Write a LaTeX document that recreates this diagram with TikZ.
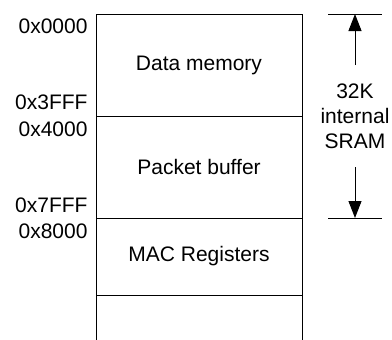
\documentclass[tikz,border=0pt]{standalone}
\usepackage{fontspec}
\setmainfont{Liberation Sans}
\usetikzlibrary{arrows.meta,calc}
\begin{document}
\begin{tikzpicture}[x=1pt,y=-1pt,line width=1pt,
  txt/.style={font=\fontsize{21}{25}\selectfont},
  region/.style={txt,draw,minimum width=206pt,inner sep=0pt,outer sep=0pt},
  addr/.style={txt,anchor=base east,inner sep=0pt},
  dimarrow/.style={-{Triangle[length=17pt,width=13pt]}}]
\useasboundingbox (0,0) rectangle (392,340);
% memory regions, stacked from the top
\node[region,minimum height=102pt,anchor=north west] (data) at (96,14) {Data memory};
\node[region,minimum height=102pt,anchor=north] (pkt) at (data.south) {Packet buffer};
\node[region,minimum height=77pt,anchor=north] (mac) at (pkt.south) {MAC Registers};
% open-ended continuation below the last region
\coordinate (tailL) at ($(mac.south west)+(0,45)$);
\coordinate (tailR) at ($(mac.south east)+(0,45)$);
\draw (mac.south west) -- (tailL);
\draw (mac.south east) -- (tailR);
% address labels
\node[addr] (a0000) at ($(data.north west)+(-8,20)$) {0x0000};
\node[addr] (a3fff) at ($(data.south west)+(-8,-6)$) {0x3FFF};
\node[addr] (a4000) at ($(pkt.north west)+(-8,20)$) {0x4000};
\node[addr] (a7fff) at ($(pkt.south west)+(-8,-6)$) {0x7FFF};
\node[addr] (a8000) at ($(mac.north west)+(-8,20)$) {0x8000};
% size dimension on the right
\coordinate (t1) at ($(data.north east)+(26,0)$);
\coordinate (t2) at ($(data.north east)+(80,0)$);
\coordinate (b1) at ($(pkt.south east)+(26,0)$);
\coordinate (b2) at ($(pkt.south east)+(80,0)$);
\draw (t1) -- (t2);
\draw (b1) -- (b2);
\coordinate (tip1) at ($(t1)!0.5!(t2)$);
\coordinate (tip2) at ($(b1)!0.5!(b2)$);
\node[txt,align=center,anchor=base,inner sep=0pt] (size) at (355,148) {32K\\internal\\SRAM};
\coordinate (s1) at ($(tip1)+(0,51)$);
\coordinate (s2) at ($(tip2)+(0,-51)$);
\draw[dimarrow] (s1) -- (tip1);
\draw[dimarrow] (s2) -- (tip2);
\end{tikzpicture}
\end{document}
